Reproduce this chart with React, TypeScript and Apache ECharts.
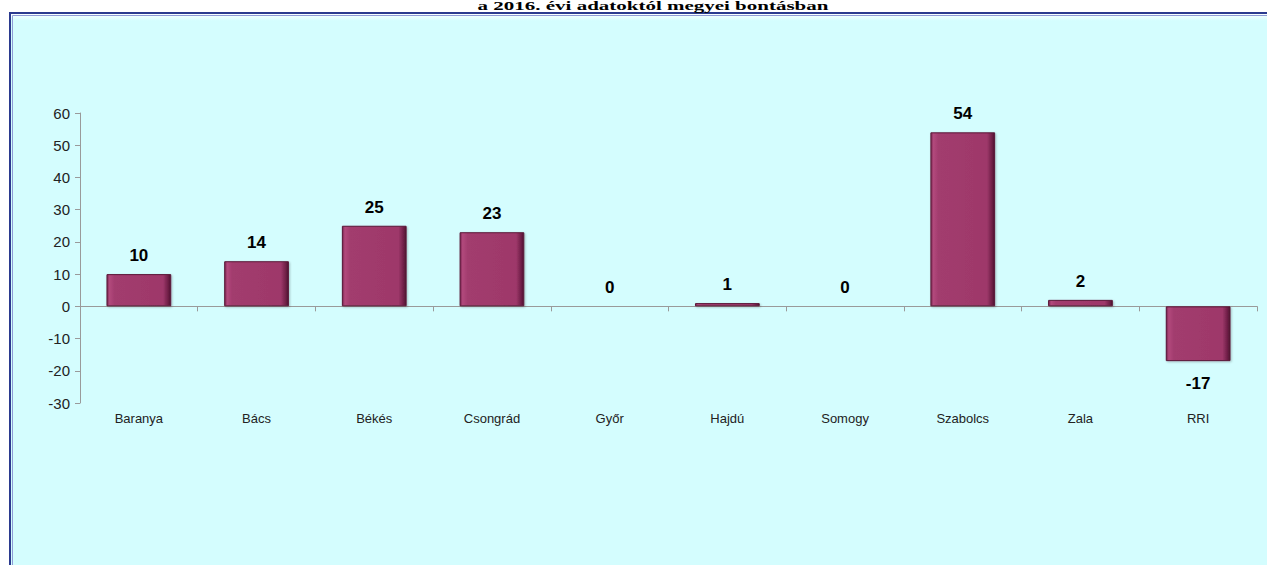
import React, { useEffect, useRef } from "react";
import * as echarts from "echarts";

const titleText = "a 2016. évi adatoktól megyei bontásban";
const categories = ["Baranya", "Bács", "Békés", "Csongrád", "Győr", "Hajdú", "Somogy", "Szabolcs", "Zala", "RRI"];
const values = [10, 14, 25, 23, 0, 1, 0, 54, 2, -17];
const yMin = -30;
const yMax = 60;
const yInterval = 10;

export default function App() {
  const ref = useRef<HTMLDivElement>(null);
  useEffect(() => {
    if (!ref.current) return;
    const chart = echarts.init(ref.current, null, { renderer: "svg" });
    const barGradient = new echarts.graphic.LinearGradient(0, 0, 1, 0, [
      { offset: 0, color: "#7A2450" },
      { offset: 0.04, color: "#B2497C" },
      { offset: 0.12, color: "#A23C6E" },
      { offset: 0.88, color: "#9E386A" },
      { offset: 0.96, color: "#6E1F46" },
      { offset: 1, color: "#4E1230" },
    ]);
    chart.setOption({
      animation: false,
      backgroundColor: "#FFFFFF",
      graphic: [
        {
          type: "rect",
          silent: true,
          z: -10,
          shape: { x: 10, y: 13, width: 1257, height: 552 },
          style: {
            fill: new echarts.graphic.LinearGradient(0, 0, 0, 1, [
              { offset: 0, color: "#FFFFFF" },
              { offset: 0.014, color: "#D4FDFE" },
              { offset: 1, color: "#D4FDFE" },
            ]),
          },
        },
        {
          type: "polyline",
          silent: true,
          z: -9,
          shape: { points: [[10, 565], [10, 13], [1267, 13]] },
          style: { fill: "none", stroke: "#2B3A8F", lineWidth: 2 },
        },
        {
          type: "polyline",
          silent: true,
          z: -9,
          shape: { points: [[12.5, 565], [12.5, 15.5], [1267, 15.5]] },
          style: { fill: "none", stroke: "#8E9BD6", lineWidth: 1 },
        },
        {
          type: "text",
          silent: true,
          z: 10,
          x: 653,
          y: 0,
          scaleX: 1,
          scaleY: 0.6,
          style: {
            text: titleText,
            fontFamily: "Liberation Serif, Times New Roman, serif",
            fontWeight: "bold",
            fontSize: 21,
            fill: "#000",
            align: "center",
            verticalAlign: "top",
          },
        },
      ],
      grid: { left: 80, right: 10, top: 113, bottom: 162, containLabel: false },
      xAxis: [
        {
          type: "category",
          data: categories,
          position: "bottom",
          axisLine: { show: false, onZero: false },
          axisTick: { show: false },
          axisLabel: { margin: 9, fontFamily: "Arial, Liberation Sans, sans-serif", fontSize: 13, color: "#222" },
        },
        {
          type: "category",
          data: categories,
          position: "bottom",
          axisLine: { show: true, onZero: true, lineStyle: { color: "#9A9A9A", width: 1 } },
          axisTick: { show: true, length: 5, lineStyle: { color: "#9A9A9A" } },
          axisLabel: { show: false },
        },
      ],
      yAxis: {
        type: "value",
        min: yMin,
        max: yMax,
        interval: yInterval,
        axisLine: { show: true, lineStyle: { color: "#9A9A9A", width: 1 } },
        axisTick: { show: true, length: 5, lineStyle: { color: "#9A9A9A" } },
        splitLine: { show: false },
        axisLabel: { margin: 10, fontFamily: "Arial, Liberation Sans, sans-serif", fontSize: 15, color: "#222" },
      },
      series: [
        {
          type: "bar",
          xAxisIndex: 0,
          barWidth: "55%",
          data: values.map((v) => ({
            value: v,
            label: { position: v < 0 ? "bottom" : "top", distance: v < 0 ? 14 : 10 },
          })),
          itemStyle: {
            color: barGradient,
            borderColor: "#5A1838",
            borderWidth: 1,
            shadowColor: "rgba(0,0,0,0.25)",
            shadowBlur: 2,
            shadowOffsetX: 1,
            shadowOffsetY: 1,
          },
          label: {
            show: true,
            fontFamily: "Arial, Liberation Sans, sans-serif",
            fontWeight: "bold",
            fontSize: 17,
            color: "#000",
          },
        },
      ],
    });
    return () => chart.dispose();
  }, []);
  return (
    <div
      ref={ref}
      style={{ position: "absolute", left: 0, top: 0, width: 1267, height: 565 }}
    />
  );
}
